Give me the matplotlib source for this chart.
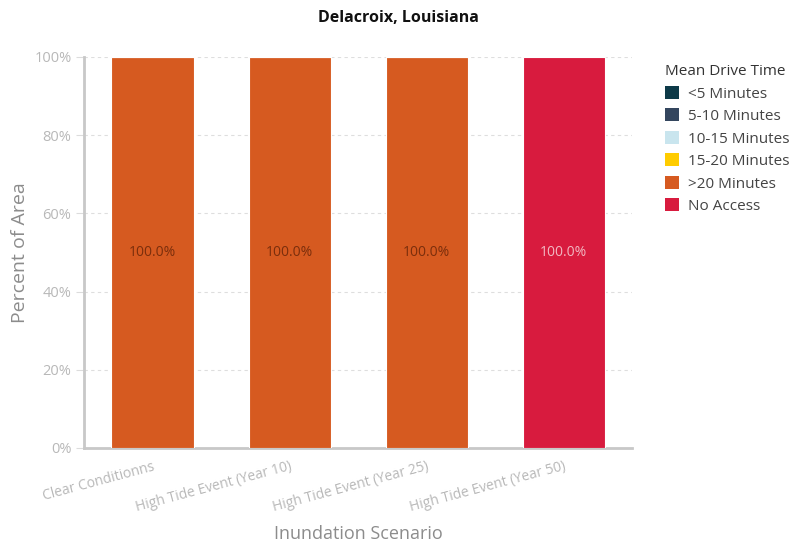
import matplotlib
matplotlib.use("Agg")
import matplotlib.pyplot as plt
from matplotlib.patches import Patch
from matplotlib.ticker import PercentFormatter
import numpy as np

plt.rcParams["font.family"] = ["Open Sans", "DejaVu Sans"]

# ---- data ----
scenarios = ["Clear Conditionns", "High Tide Event (Year 10)",
             "High Tide Event (Year 25)", "High Tide Event (Year 50)"]
classes = ["<5 Minutes", "5-10 Minutes", "10-15 Minutes",
           "15-20 Minutes", ">20 Minutes", "No Access"]
lt5 = [0, 0, 0, 0]
m5_10 = [0, 0, 0, 0]
m10_15 = [0, 0, 0, 0]
m15_20 = [0, 0, 0, 0]
gt20 = [100.0, 100.0, 100.0, 0]
no_access = [0, 0, 0, 100.0]

# ---- style ----
COLORS = ["#0d3a48", "#34465e", "#c9e5ee", "#ffcc00", "#d65a20", "#d81b3e"]
LABEL_COLORS = ["#ffffff", "#ffffff", "#555555", "#555555", "#7a2e0c", "#f2b8c2"]
TICK = "#b8b8b8"
AXLBL = "#8c8c8c"
SPINE = "#c8c8c8"

series = [lt5, m5_10, m10_15, m15_20, gt20, no_access]

fig = plt.figure(figsize=(7.96, 5.47), dpi=100)
ax = fig.add_axes([0.1055, 0.181, 0.689, 0.7148])

x = np.arange(len(scenarios))
bottom = np.zeros(len(scenarios))
for vals, col, lc in zip(series, COLORS, LABEL_COLORS):
    vals = np.array(vals, dtype=float)
    bars = ax.bar(x, vals, width=0.6, bottom=bottom, color=col,
                  edgecolor="white", linewidth=0.8, zorder=3)
    for b, v, b0 in zip(bars, vals, bottom):
        if v > 0:
            ax.text(b.get_x() + b.get_width() / 2, b0 + v / 2, f"{v:.1f}%",
                    ha="center", va="center", fontsize=10, color=lc, zorder=4)
    bottom += vals

ax.set_xlim(-0.5, len(scenarios) - 0.5)
ax.set_ylim(0, 100)
ax.set_yticks(np.arange(0, 101, 20))
ax.yaxis.set_major_formatter(PercentFormatter(decimals=0))
ax.grid(axis="y", color="#dedede", linestyle=(0, (3, 3)), linewidth=0.8, zorder=0)

ax.set_xticks(x)
ax.set_xticklabels(scenarios, rotation=15, ha="right", rotation_mode="anchor",
                   fontsize=10, color=TICK)
ax.tick_params(axis="x", length=0, pad=8)
ax.tick_params(axis="y", length=6, color="#dcdcdc", labelcolor=TICK,
               labelsize=10.5, pad=3)

for s in ["top", "right"]:
    ax.spines[s].set_visible(False)
ax.spines["left"].set_color(SPINE)
ax.spines["left"].set_linewidth(2)
ax.spines["bottom"].set_color(SPINE)
ax.spines["bottom"].set_linewidth(2)

ax.set_ylabel("Percent of Area", fontsize=14, color=AXLBL, labelpad=4)
ax.set_xlabel("Inundation Scenario", fontsize=13, color=AXLBL, labelpad=7)

fig.suptitle("Delacroix, Louisiana", x=0.5, y=0.982, fontsize=11.5,
             fontweight="bold", color="#111111")

handles = [Patch(facecolor=c, edgecolor="none") for c in COLORS]
leg = fig.legend(handles, classes, title="Mean Drive Time", loc="upper left",
                 bbox_to_anchor=(0.818, 0.908), frameon=False, fontsize=11,
                 title_fontsize=11, handlelength=0.9, handleheight=0.9,
                 handletextpad=0.6, labelspacing=0.45)
leg._legend_box.align = "left"
for t in leg.get_texts():
    t.set_color("#444444")
leg.get_title().set_color("#333333")

fig.savefig("out.png", dpi=100, facecolor="white")
